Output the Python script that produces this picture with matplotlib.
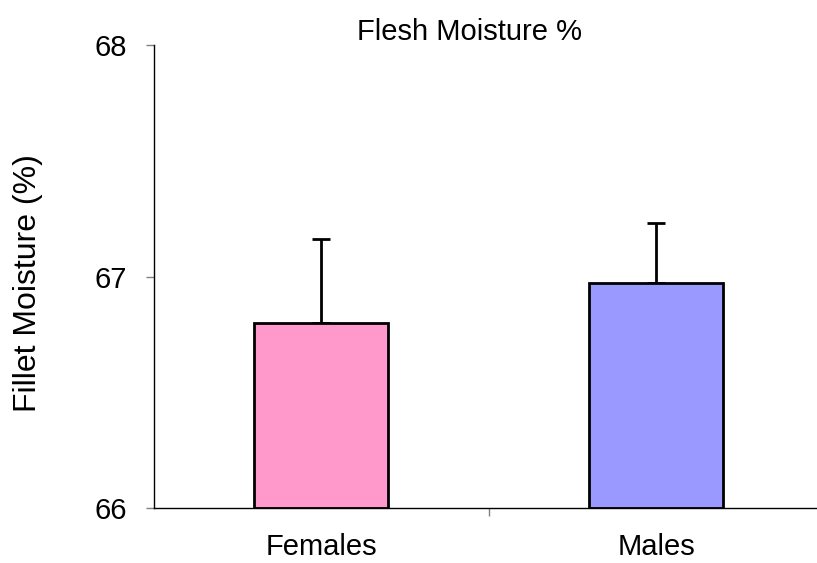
import matplotlib
matplotlib.use("Agg")
import matplotlib.pyplot as plt

categories = ["Females", "Males"]
values = [66.80, 66.97]
errors = [0.36, 0.26]
colors = ["#FF99CC", "#9999FF"]
yticks = [66, 67, 68]
title = "Flesh Moisture %"
ylabel = "Fillet Moisture (%)"

plt.rcParams['font.family'] = ['Liberation Sans', 'DejaVu Sans']

W, H = 817, 563
fig = plt.figure(figsize=(W / 100, H / 100), dpi=100)
left = 153.5 / W
bottom = (H - 508) / H
top = (H - 45) / H
ax = fig.add_axes([left, bottom, 1.0 - left, top - bottom])

x = list(range(len(categories)))
base = yticks[0]
ax.bar(x, [v - base for v in values], bottom=base, width=0.4, color=colors,
       edgecolor="black", linewidth=2.0, zorder=2)
ax.errorbar(x, values, yerr=[[0] * len(errors), errors], fmt="none",
            ecolor="black", elinewidth=2.0, capsize=6.5, capthick=2.0, zorder=1)

ax.set_ylim(66, 68)
ax.set_xlim(-0.5, 1.48)
ax.set_yticks(yticks)
ax.set_yticklabels([str(t) for t in yticks])
ax.set_xticks([0.5], minor=False)
ax.set_xticklabels([""])
for xi, c in zip(x, categories):
    ax.text(xi, -0.102, c, transform=ax.get_xaxis_transform(), ha="center",
            va="baseline", fontsize=21)

ax.tick_params(axis="y", direction="out", length=6, width=1, color="#808080",
               labelsize=21, pad=13)
ax.tick_params(axis="x", direction="out", length=6, width=1, color="#808080")
for s in ["top", "right"]:
    ax.spines[s].set_visible(False)
for s in ["left", "bottom"]:
    ax.spines[s].set_color("black")
    ax.spines[s].set_linewidth(1)

fig.text(469.5 / W, 1 - 32 / H, title, ha="center", va="center", fontsize=21)
fig.text(28 / W, 1 - 283.5 / H, ylabel, ha="center", va="center",
         rotation=90, fontsize=23)

fig.savefig("out.png", dpi=100)
